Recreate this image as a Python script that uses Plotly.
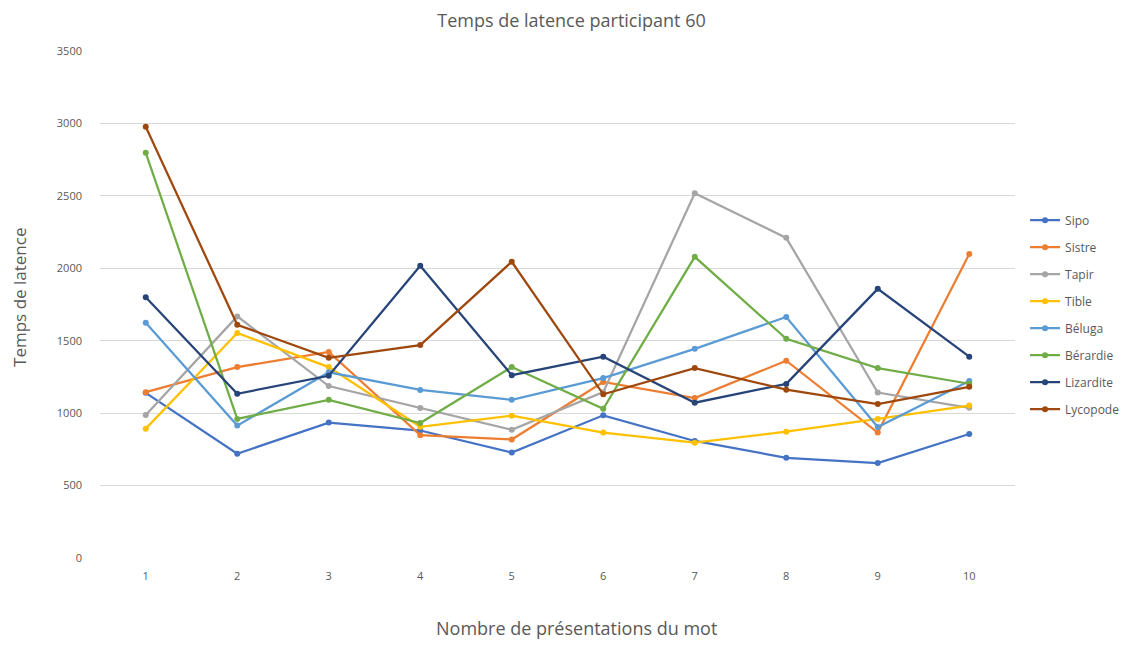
import plotly.graph_objects as go

presentations = [1, 2, 3, 4, 5, 6, 7, 8, 9, 10]
sipo = [1140, 720, 935, 880, 728, 985, 808, 692, 655, 856]
sistre = [1145, 1318, 1422, 848, 818, 1215, 1104, 1362, 866, 2098]
tapir = [987, 1668, 1187, 1035, 885, 1145, 2518, 2210, 1142, 1037]
tible = [893, 1553, 1318, 906, 982, 866, 796, 872, 960, 1052]
beluga = [1624, 914, 1282, 1160, 1092, 1242, 1444, 1664, 904, 1222]
berardie = [2797, 960, 1092, 932, 1318, 1030, 2079, 1513, 1311, 1203]
lizardite = [1800, 1134, 1258, 2018, 1262, 1390, 1072, 1202, 1858, 1390]
lycopode = [2977, 1610, 1382, 1470, 2045, 1130, 1311, 1162, 1063, 1182]

series = [
    ("Sipo", sipo, "#4472C4"),
    ("Sistre", sistre, "#ED7D31"),
    ("Tapir", tapir, "#A5A5A5"),
    ("Tible", tible, "#FFC000"),
    ("Béluga", beluga, "#5B9BD5"),
    ("Bérardie", berardie, "#70AD47"),
    ("Lizardite", lizardite, "#264478"),
    ("Lycopode", lycopode, "#9E480E"),
]

fig = go.Figure()
for name, vals, color in series:
    fig.add_trace(go.Scatter(
        x=presentations, y=vals, name=name, mode="lines+markers",
        line=dict(color=color, width=2.25),
        marker=dict(color=color, size=6),
        legendgroup=name,
    ))

fig.update_layout(
    width=1127, height=638,
    paper_bgcolor="white", plot_bgcolor="white",
    margin=dict(l=92, r=120, t=43, b=88, autoexpand=False),
    font=dict(family="Open Sans, Liberation Sans, sans-serif", color="#595959"),
    title=dict(text="Temps de latence participant 60", x=0.5, xref="container",
               xanchor="center",
               y=0.98, yanchor="middle",
               font=dict(size=18, color="#595959")),
    showlegend=True,
    legend=dict(x=1.011, xanchor="left", y=0.48, yanchor="middle",
                font=dict(size=12, color="#595959"),
                tracegroupgap=8, itemwidth=30),
    xaxis=dict(
        range=[0.5, 10.5], tickmode="array", tickvals=presentations,
        ticktext=[str(p) for p in presentations],
        showgrid=False, zeroline=False, showline=False,
        tickfont=dict(size=11, color="#595959"),
        ticks="", ticklabelstandoff=10,
    ),
    yaxis=dict(
        range=[0, 3500], dtick=500, showgrid=True, gridcolor="#D9D9D9",
        gridwidth=1, zeroline=False, showline=False,
        tickfont=dict(size=11, color="#595959"),
        ticks="", ticklabelstandoff=17,
    ),
    annotations=[
        dict(text="Nombre de présentations du mot", xref="paper", yref="paper",
             x=0.521, y=-0.138, xanchor="center", yanchor="middle",
             showarrow=False, font=dict(size=18, color="#595959")),
        dict(text="Temps de latence", xref="paper", yref="paper",
             x=-0.0874, y=0.513, xanchor="center", yanchor="middle",
             textangle=-90, showarrow=False,
             font=dict(size=17, color="#595959")),
    ],
)

fig.write_html("out.html")
